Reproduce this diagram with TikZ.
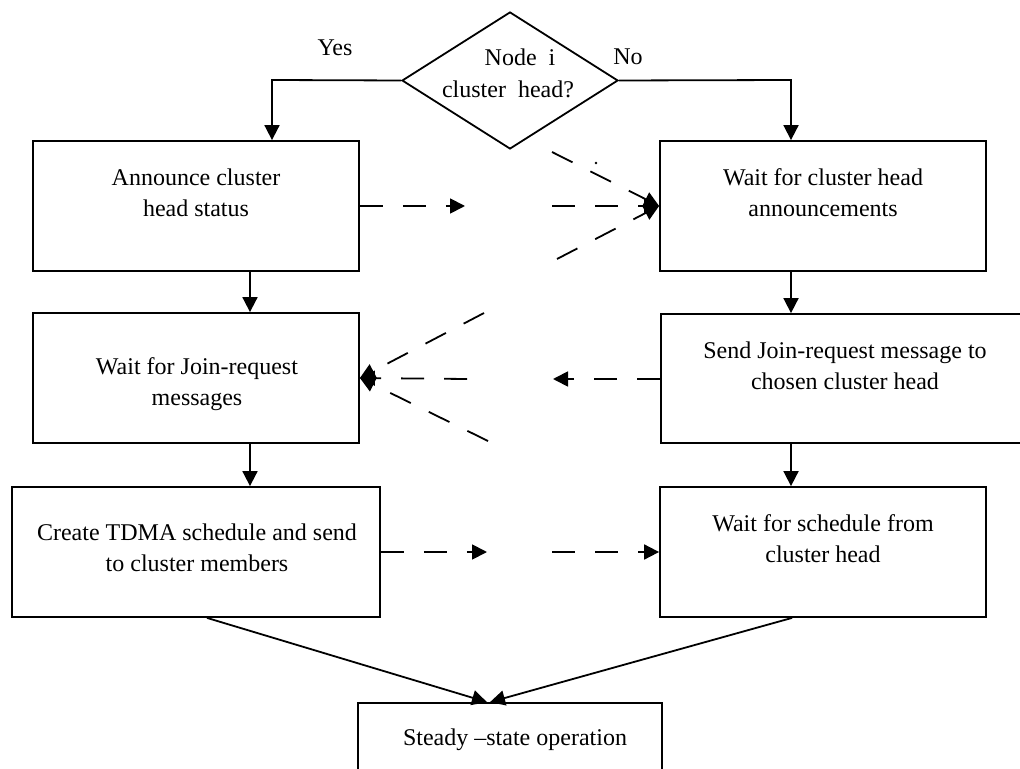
\documentclass[tikz,border=0pt]{standalone}
\usepackage{fontspec}
\setmainfont{Liberation Serif}
\usetikzlibrary{arrows.meta,shapes.geometric}

\begin{document}
\begin{tikzpicture}[x=0.5pt,y=-0.5pt,
  every node/.style={inner sep=0pt},
  box/.style={draw,line width=0.9pt,rectangle,minimum width=#1,minimum height=65pt},
  lbl/.style={font=\fontsize{12}{15.5}\selectfont,align=center},
  flow/.style={line width=0.9pt,-{Triangle[length=7.5pt,width=7.5pt]}},
  msg/.style={flow,dash pattern=on 11.5pt off 10pt},
  plain/.style={line width=0.9pt}
]
\useasboundingbox (0,0) rectangle (1020,769);
\clip (0,0) rectangle (1020,769);

% decision
\node[draw,diamond,line width=0.9pt,minimum width=108pt,minimum height=68.5pt] (dia) at (510,80.5) {};
\node[lbl] (q1) at (520,57) {Node\ \ i};
\node[lbl] (q2) at (508,89) {cluster\ \ head?};
\node[lbl] (yes) at (335,48) {Yes};
\node[lbl] (no) at (628,57) {No};

% cluster-head branch
\node[box=163pt] (B1) at (196,206) {};
\node[box=163pt] (B2) at (196,378) {};
\node[box=184pt] (B3) at (196,552) {};
% member branch
\node[box=163pt] (R1) at (823,206) {};
\node[box=189.5pt,minimum height=64.5pt] (R2) at (850.5,378.5) {};
\node[box=163pt] (R3) at (823,552) {};
% final state
\node[box=152pt,minimum height=43.5pt] (BB) at (510,746.5) {};

\node[lbl] (t1) at (196,193) {Announce cluster\\head status};
\node[lbl] (t2) at (197,384) {Wait for Join-request\\messages};
\node[lbl] (t3) at (197,548) {Create TDMA schedule and send\\to cluster members};
\node[lbl] (t4) at (823,193) {Wait for cluster head\\announcements};
\node[lbl] (t5) at (845,366) {Send Join-request message to\\chosen cluster head};
\node[lbl] (t6) at (823,539) {Wait for schedule from\\cluster head};
\node[lbl] (t7) at (515,740) {Steady –state operation};

% solid flow
\coordinate (yturn) at (272,80);
\coordinate (nturn) at (791,80);
\coordinate (lcol) at (250,0);
\coordinate (rcol) at (791,0);
\draw[flow] (dia.west) -- (yturn) -- (yturn |- B1.north);
\draw[flow] (dia.east) -- (nturn) -- (nturn |- R1.north);
\draw[flow] (lcol |- B1.south) -- (lcol |- B2.north);
\draw[flow] (lcol |- B2.south) -- (lcol |- B3.north);
\draw[flow] (rcol |- R1.south) -- (rcol |- R2.north);
\draw[flow] (rcol |- R2.south) -- (rcol |- R3.north);
\draw[flow] ([xshift=5.5pt]B3.south) -- ([xshift=-11.5pt]BB.north);
\draw[flow] ([xshift=-15.5pt]R3.south) -- ([xshift=-10pt]BB.north);

% announcement messages
\coordinate (a0) at (465,206);
\coordinate (a1) at (552,152);
\coordinate (a2) at (552,206);
\coordinate (a3) at (557,259);
\draw[msg] (B1.east) -- (a0);
\draw[msg] (a1) -- (R1.west);
\draw[msg] (a2) -- (R1.west);
\draw[msg] (a3) -- (R1.west);
\fill (596,163) circle (0.7pt);

% join-request messages
\coordinate (j0) at (553,379);
\coordinate (j1) at (484,313);
\coordinate (j2) at (467,379);
\coordinate (j3) at (488,441);
\draw[msg] (R2.west |- j0) -- (j0);
\draw[msg] (j1) -- (B2.east);
\draw[msg] (j2) -- (B2.east);
\draw[msg] (j3) -- (B2.east);

% schedule messages
\coordinate (s0) at (487,552);
\coordinate (s1) at (552,552);
\draw[msg] (B3.east) -- (s0);
\draw[msg] (s1) -- (R3.west);
\end{tikzpicture}
\end{document}
